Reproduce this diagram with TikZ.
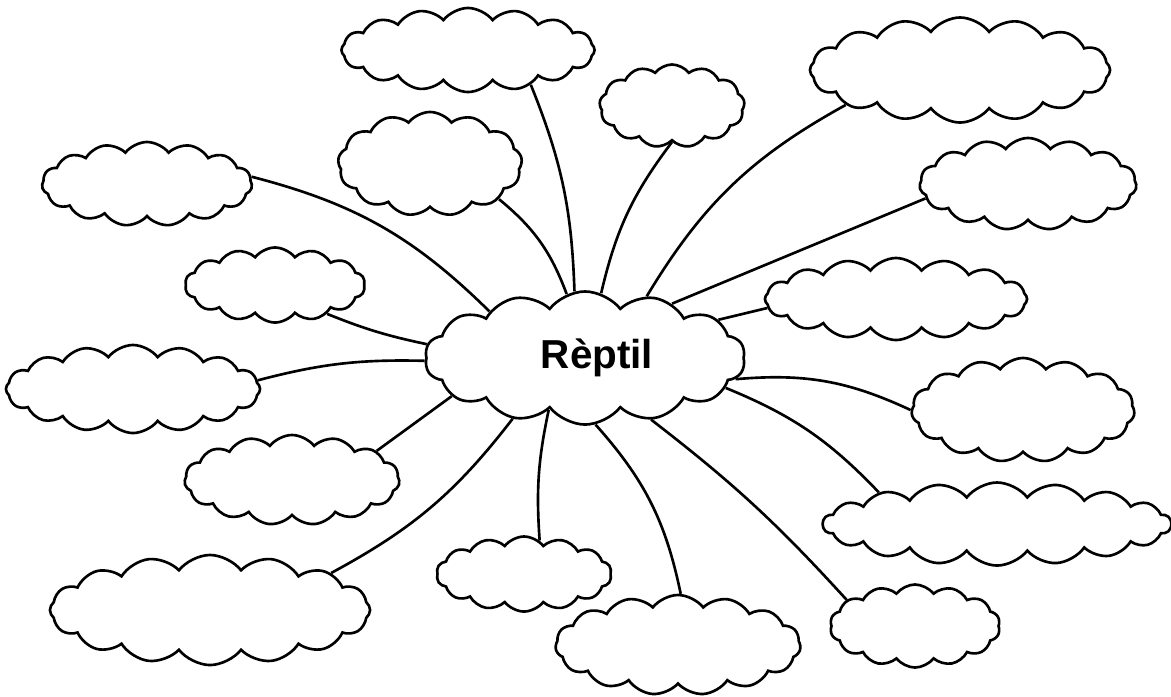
\documentclass[tikz,border=0pt]{standalone}
\usepackage{fontspec}
\setmainfont{Liberation Sans}
\usetikzlibrary{shapes.symbols}

\begin{document}
\begin{tikzpicture}[x=0.01cm,y=-0.01cm]
\tikzstyle{every node}=[cloud, draw, cloud puffs=15, cloud puff arc=105, cloud ignores aspect, inner sep=0pt, line width=.75pt]
\useasboundingbox (0,0) rectangle (1171,696);
\draw (585,358) node (c0) [minimum width=3.2cm, minimum height=1.33cm, cloud puffs=14, font=\bfseries\fontsize{11.5}{13}\selectfont] {\hspace*{.24cm}Rèptil};
\draw (468,50) node (c1) [minimum width=2.53cm, minimum height=.84cm, cloud puffs=16] {};
\draw (147,184) node (c2) [minimum width=2.1cm, minimum height=.84cm] {};
\draw (430,164) node (c3) [minimum width=1.84cm, minimum height=1.04cm, cloud puffs=13] {};
\draw (275,285) node (c4) [minimum width=1.8cm, minimum height=.75cm, cloud puffs=14] {};
\draw (133,389) node (c5) [minimum width=2.54cm, minimum height=.88cm, cloud puffs=16] {};
\draw (292,480) node (c6) [minimum width=2.15cm, minimum height=.9cm] {};
\draw (210,610) node (c7) [minimum width=3.2cm, minimum height=1.1cm, cloud puffs=16] {};
\draw (524,574) node (c8) [minimum width=1.75cm, minimum height=.75cm, cloud puffs=14] {};
\draw (678,645) node (c9) [minimum width=2.45cm, minimum height=1cm] {};
\draw (915,626) node (c10) [minimum width=1.7cm, minimum height=.83cm, cloud puffs=14] {};
\draw (997,524) node (c11) [minimum width=3.48cm, minimum height=.83cm, cloud puffs=18] {};
\draw (1023,410) node (c12) [minimum width=2.23cm, minimum height=1.04cm] {};
\draw (896,299) node (c13) [minimum width=2.62cm, minimum height=.82cm, cloud puffs=16] {};
\draw (1028,184) node (c14) [minimum width=2.17cm, minimum height=.92cm] {};
\draw (960,70) node (c15) [minimum width=3cm, minimum height=1.05cm, cloud puffs=16] {};
\draw (672,106) node (c16) [minimum width=1.45cm, minimum height=.83cm, cloud puffs=13] {};
\draw[line width=.75pt] (c0.99) to[bend right=10] (c1.-29);
\draw[line width=.75pt] (c0.154) to[bend right=15] (c2.4);
\draw[line width=.75pt] (c0.106) to[bend right=15] (c3.-27);
\draw[line width=.75pt] (c0.175) to[bend left=5] (c4.-29);
\draw[line width=.75pt] (c0.181) to[bend right=8] (c5.4);
\draw[line width=.75pt] (c0.196) -- (c6.19);
\draw[line width=.75pt] (c0.220) to[bend left=12] (c7.17);
\draw[line width=.75pt] (c0.235) to[bend right=8] (c8.65);
\draw[line width=.75pt] (c0.279) to[bend left=15] (c9.87);
\draw[line width=.75pt] (c0.317) to[bend left=5] (c10.159);
\draw[line width=.75pt] (c0.348) to[bend left=12] (c11.165);
\draw[line width=.75pt] (c0.352) to[bend left=15] (c12.180);
\draw[line width=.75pt] (c0.16) -- (c13.184);
\draw[line width=.75pt] (c0.32) -- (c14.188);
\draw[line width=.75pt] (c0.45) to[bend left=15] (c15.197);
\draw[line width=.75pt] (c0.76) to[bend left=12] (c16.270);
\end{tikzpicture}
\end{document}
